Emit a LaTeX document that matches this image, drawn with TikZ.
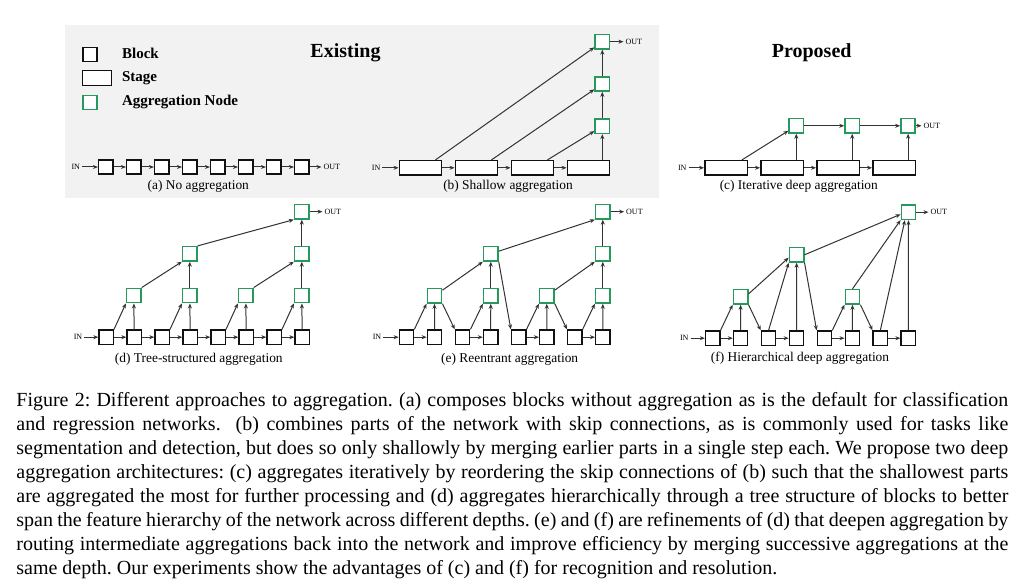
\documentclass[tikz,border=0pt]{standalone}
\usepackage{fontspec}
\setmainfont{Liberation Serif}
\usetikzlibrary{arrows.meta}
\definecolor{aggc}{HTML}{259A5C}
\definecolor{arrc}{HTML}{333333}
\definecolor{blkc}{HTML}{111111}
\definecolor{panelc}{HTML}{F2F2F2}
\begin{document}
\begin{tikzpicture}[x=0.5pt,y=-0.5pt,
  blk/.style={draw=blkc,line width=0.7pt,fill=white,minimum width=7.15pt,minimum height=7.15pt,inner sep=0pt},
  stg/.style={blk,minimum width=21.2pt},
  agg/.style={draw=aggc,line width=0.8pt,fill=white,minimum width=7.15pt,minimum height=7.15pt,inner sep=0pt},
  arr/.style={draw=arrc,line width=0.5pt,-{Stealth[length=2.5pt,width=2pt]}},
  io/.style={font=\fontsize{4}{4}\selectfont,inner sep=0.8pt},
  subcap/.style={font=\fontsize{6.7}{8}\selectfont,inner sep=0pt},
  legtxt/.style={font=\bfseries\fontsize{7.5}{9}\selectfont,inner sep=0pt,anchor=west},
  ttl/.style={font=\bfseries\fontsize{10}{12}\selectfont,inner sep=0pt}]
\useasboundingbox (0,0) rectangle (1024,587);
\fill[white] (0,0) rectangle (1024,587);
\fill[panelc] (65,25) rectangle (659,198);

% legend
\node[blk] (lgb) at (90,54.5) {};
\node[blk,minimum width=14.5pt,minimum height=7.5pt] (lgs) at (97.2,78.2) {};
\node[agg] (lga) at (90,102.5) {};
\node[legtxt] (lgbt) at (121.7,53.5) {Block};
\node[legtxt] (lgst) at (121.7,78) {Stage};
\node[legtxt] (lgat) at (121.7,102) {Aggregation Node};
\node[ttl] (tex) at (345.5,52.5) {Existing};
\node[ttl] (tpr) at (811.7,52.8) {Proposed};

% (a) no aggregation
\foreach \i in {1,...,8} \node[blk] (a\i) at ({105.8+28*(\i-1)},167) {};
\node[io,anchor=east] (ain) at (82,167) {IN};
\node[io,anchor=west] (aout) at (321.5,167) {OUT};
\draw[arr] (ain) -- (a1);
\foreach \i in {1,...,7}{\pgfmathtruncatemacro\j{\i+1}\draw[arr] (a\i) -- (a\j);}
\draw[arr] (a8) -- (aout);
\node[subcap] (acap) at (198.3,186.7) {(a) No aggregation};

% (b) shallow aggregation
\foreach \i in {1,...,4} \node[stg] (bs\i) at ({420.5+56*(\i-1)},167.8) {};
\node[agg] (bg1) at (602.3,126.2) {};
\node[agg] (bg2) at (602.3,83.9) {};
\node[agg] (bg3) at (602.3,41.7) {};
\node[io,anchor=east] (bin) at (382.3,167.8) {IN};
\node[io,anchor=west] (bout) at (623.5,41.7) {OUT};
\draw[arr] (bin) -- (bs1);
\draw[arr] (bs1) -- (bs2);
\draw[arr] (bs2) -- (bs3);
\draw[arr] (bs3) -- (bs4);
\draw[arr] ([xshift=-3.5pt]bs1.north east) -- (bg3);
\draw[arr] ([xshift=-3.5pt]bs2.north east) -- (bg2);
\draw[arr] ([xshift=-3.5pt]bs3.north east) -- (bg1);
\draw[arr] (bg1 |- bs4.north) -- (bg1);
\draw[arr] (bg1) -- (bg2);
\draw[arr] (bg2) -- (bg3);
\draw[arr] (bg3) -- (bout);
\node[subcap] (bcap) at (508,186.7) {(b) Shallow aggregation};

% (c) iterative deep aggregation
\foreach \i in {1,...,4} \node[stg] (cs\i) at ({726+56*(\i-1)},167.8) {};
\node[agg] (cg1) at (796.3,125.8) {};
\node[agg] (cg2) at (852.2,125.8) {};
\node[agg] (cg3) at (908.1,125.8) {};
\node[io,anchor=east] (cin) at (688.5,167.8) {IN};
\node[io,anchor=west] (cout) at (921.5,125.8) {OUT};
\draw[arr] (cin) -- (cs1);
\draw[arr] (cs1) -- (cs2);
\draw[arr] (cs2) -- (cs3);
\draw[arr] (cs3) -- (cs4);
\draw[arr] ([xshift=-3pt]cs1.north east) -- (cg1);
\draw[arr] (cg1 |- cs2.north) -- (cg1);
\draw[arr] (cg2 |- cs3.north) -- (cg2);
\draw[arr] (cg3 |- cs4.north) -- (cg3);
\draw[arr] (cg1) -- (cg2);
\draw[arr] (cg2) -- (cg3);
\draw[arr] (cg3) -- (cout);
\node[subcap] (ccap) at (798.8,186.7) {(c) Iterative deep aggregation};

% (d) tree-structured aggregation
\foreach \i in {1,...,8} \node[blk] (d\i) at ({106.2+28*(\i-1)},337.2) {};
\node[agg] (dA1) at (133.8,295.5) {};
\node[agg] (dA2) at (189.8,295.5) {};
\node[agg] (dA3) at (245.8,295.5) {};
\node[agg] (dA4) at (301.8,295.5) {};
\node[agg] (dB1) at (189.8,253.8) {};
\node[agg] (dB2) at (301.8,253.8) {};
\node[agg] (dC) at (301.8,211.7) {};
\node[io,anchor=east] (din) at (84.2,337.2) {IN};
\node[io,anchor=west] (dout) at (322.5,211.7) {OUT};
\draw[arr] (din) -- (d1);
\foreach \i in {1,...,7}{\pgfmathtruncatemacro\j{\i+1}\draw[arr] (d\i) -- (d\j);}
\draw[arr] (d1.north east) -- (dA1.south west);
\draw[arr] (d2) -- (dA1);
\draw[arr] (d3.north east) -- (dA2.south west);
\draw[arr] (d4) -- (dA2);
\draw[arr] (d5.north east) -- (dA3.south west);
\draw[arr] (d6) -- (dA3);
\draw[arr] (d7.north east) -- (dA4.south west);
\draw[arr] (d8) -- (dA4);
\draw[arr] (dA1.north east) -- (dB1.south west);
\draw[arr] (dA2) -- (dB1);
\draw[arr] (dA3.north east) -- (dB2.south west);
\draw[arr] (dA4) -- (dB2);
\draw[arr] (dB1.north east) -- (dC.south west);
\draw[arr] (dB2) -- (dC);
\draw[arr] (dC) -- (dout);
\node[subcap] (dcap) at (198.8,359) {(d) Tree-structured aggregation};

% (e) reentrant aggregation
\foreach \i in {1,...,8} \node[blk] (e\i) at ({406.5+28.05*(\i-1)},337.2) {};
\node[agg] (eA1) at (434.5,295.8) {};
\node[agg] (eA2) at (490.8,295.8) {};
\node[agg] (eA3) at (546.8,295.8) {};
\node[agg] (eA4) at (602.8,295.8) {};
\node[agg] (eB1) at (490.8,253.8) {};
\node[agg] (eB2) at (602.8,253.8) {};
\node[agg] (eC) at (602.8,211.7) {};
\node[io,anchor=east] (ein) at (383.2,337.2) {IN};
\node[io,anchor=west] (eout) at (624.2,211.7) {OUT};
\draw[arr] (ein) -- (e1);
\draw[arr] (e1) -- (e2);
\draw[arr] (e3) -- (e4);
\draw[arr] (e5) -- (e6);
\draw[arr] (e7) -- (e8);
\draw[arr] (e1.north east) -- (eA1.south west);
\draw[arr] (e2) -- (eA1);
\draw[arr] (eA1.south east) -- (e3.north west);
\draw[arr] (e3.north east) -- (eA2.south west);
\draw[arr] (e4) -- (eA2);
\draw[arr] (eA2) -- (eB1);
\draw[arr] (eA1) -- (eB1.south west);
\draw[arr] (eB1.south east) -- (e5.north west);
\draw[arr] (e5.north east) -- (eA3.south west);
\draw[arr] (e6) -- (eA3);
\draw[arr] (eA3.south east) -- (e7.north west);
\draw[arr] (e7.north east) -- (eA4.south west);
\draw[arr] (e8) -- (eA4);
\draw[arr] (eA4) -- (eB2);
\draw[arr] (eA3) -- (eB2.south west);
\draw[arr] (eB2) -- (eC);
\draw[arr] (eB1) -- (eC.south west);
\draw[arr] (eC) -- (eout);
\node[subcap] (ecap) at (509.7,359) {(e) Reentrant aggregation};

% (f) hierarchical deep aggregation
\foreach \i in {1,...,8} \node[blk] (f\i) at ({712.7+27.94*(\i-1)},338.2) {};
\node[agg] (fA1) at (740.6,296.8) {};
\node[agg] (fA2) at (852.5,296.8) {};
\node[agg] (fB) at (796.6,254.8) {};
\node[agg] (fC) at (908.5,212.2) {};
\node[io,anchor=east] (fin) at (690.5,338.2) {IN};
\node[io,anchor=west] (fout) at (928.5,212.2) {OUT};
\draw[arr] (fin) -- (f1);
\draw[arr] (f1) -- (f2);
\draw[arr] (f3) -- (f4);
\draw[arr] (f5) -- (f6);
\draw[arr] (f7) -- (f8);
\draw[arr] (f1.north east) -- (fA1.south west);
\draw[arr] (f2) -- (fA1);
\draw[arr] (fA1.south east) -- (f3.north west);
\draw[arr] (f3.north) -- (fB.south west);
\draw[arr] (f4) -- (fB);
\draw[arr] (fA1.20) -- (fB.200);
\draw[arr] (fB.south east) -- (f5.north west);
\draw[arr] (f5.north east) -- (fA2.south west);
\draw[arr] (f6) -- (fA2);
\draw[arr] (fA2.south east) -- (f7.north west);
\draw[arr] (fB.east) -- (fC.195);
\draw[arr] (fA2.north) -- (fC.south west);
\draw[arr] (f7.north) -- ([xshift=-1.8pt]fC.south);
\draw[arr] (f8) -- (fC);
\draw[arr] (fC) -- (fout);
\node[subcap] (fcap) at (800,358) {(f) Hierarchical deep aggregation};

% caption
\node[anchor=north west,inner sep=0pt,align=left,font=\fontsize{10}{12}\selectfont\frenchspacing] (cap) at (16,389.7) {%
\makebox[496pt][s]{\strut Figure 2: Different approaches to aggregation. (a) composes blocks without aggregation as is the default for classification}\\
\makebox[496pt][s]{\strut and regression networks.\ \ (b) combines parts of the network with skip connections, as is commonly used for tasks like}\\
\makebox[496pt][s]{\strut segmentation and detection, but does so only shallowly by merging earlier parts in a single step each. We propose two deep}\\
\makebox[496pt][s]{\strut aggregation architectures: (c) aggregates iteratively by reordering the skip connections of (b) such that the shallowest parts}\\
\makebox[496pt][s]{\strut are aggregated the most for further processing and (d) aggregates hierarchically through a tree structure of blocks to better}\\
\makebox[496pt][s]{\strut span the feature hierarchy of the network across different depths. (e) and (f) are refinements of (d) that deepen aggregation by}\\
\makebox[496pt][s]{\strut routing intermediate aggregations back into the network and improve efficiency by merging successive aggregations at the}\\
\strut same depth. Our experiments show the advantages of (c) and (f) for recognition and resolution.};
\end{tikzpicture}
\end{document}
